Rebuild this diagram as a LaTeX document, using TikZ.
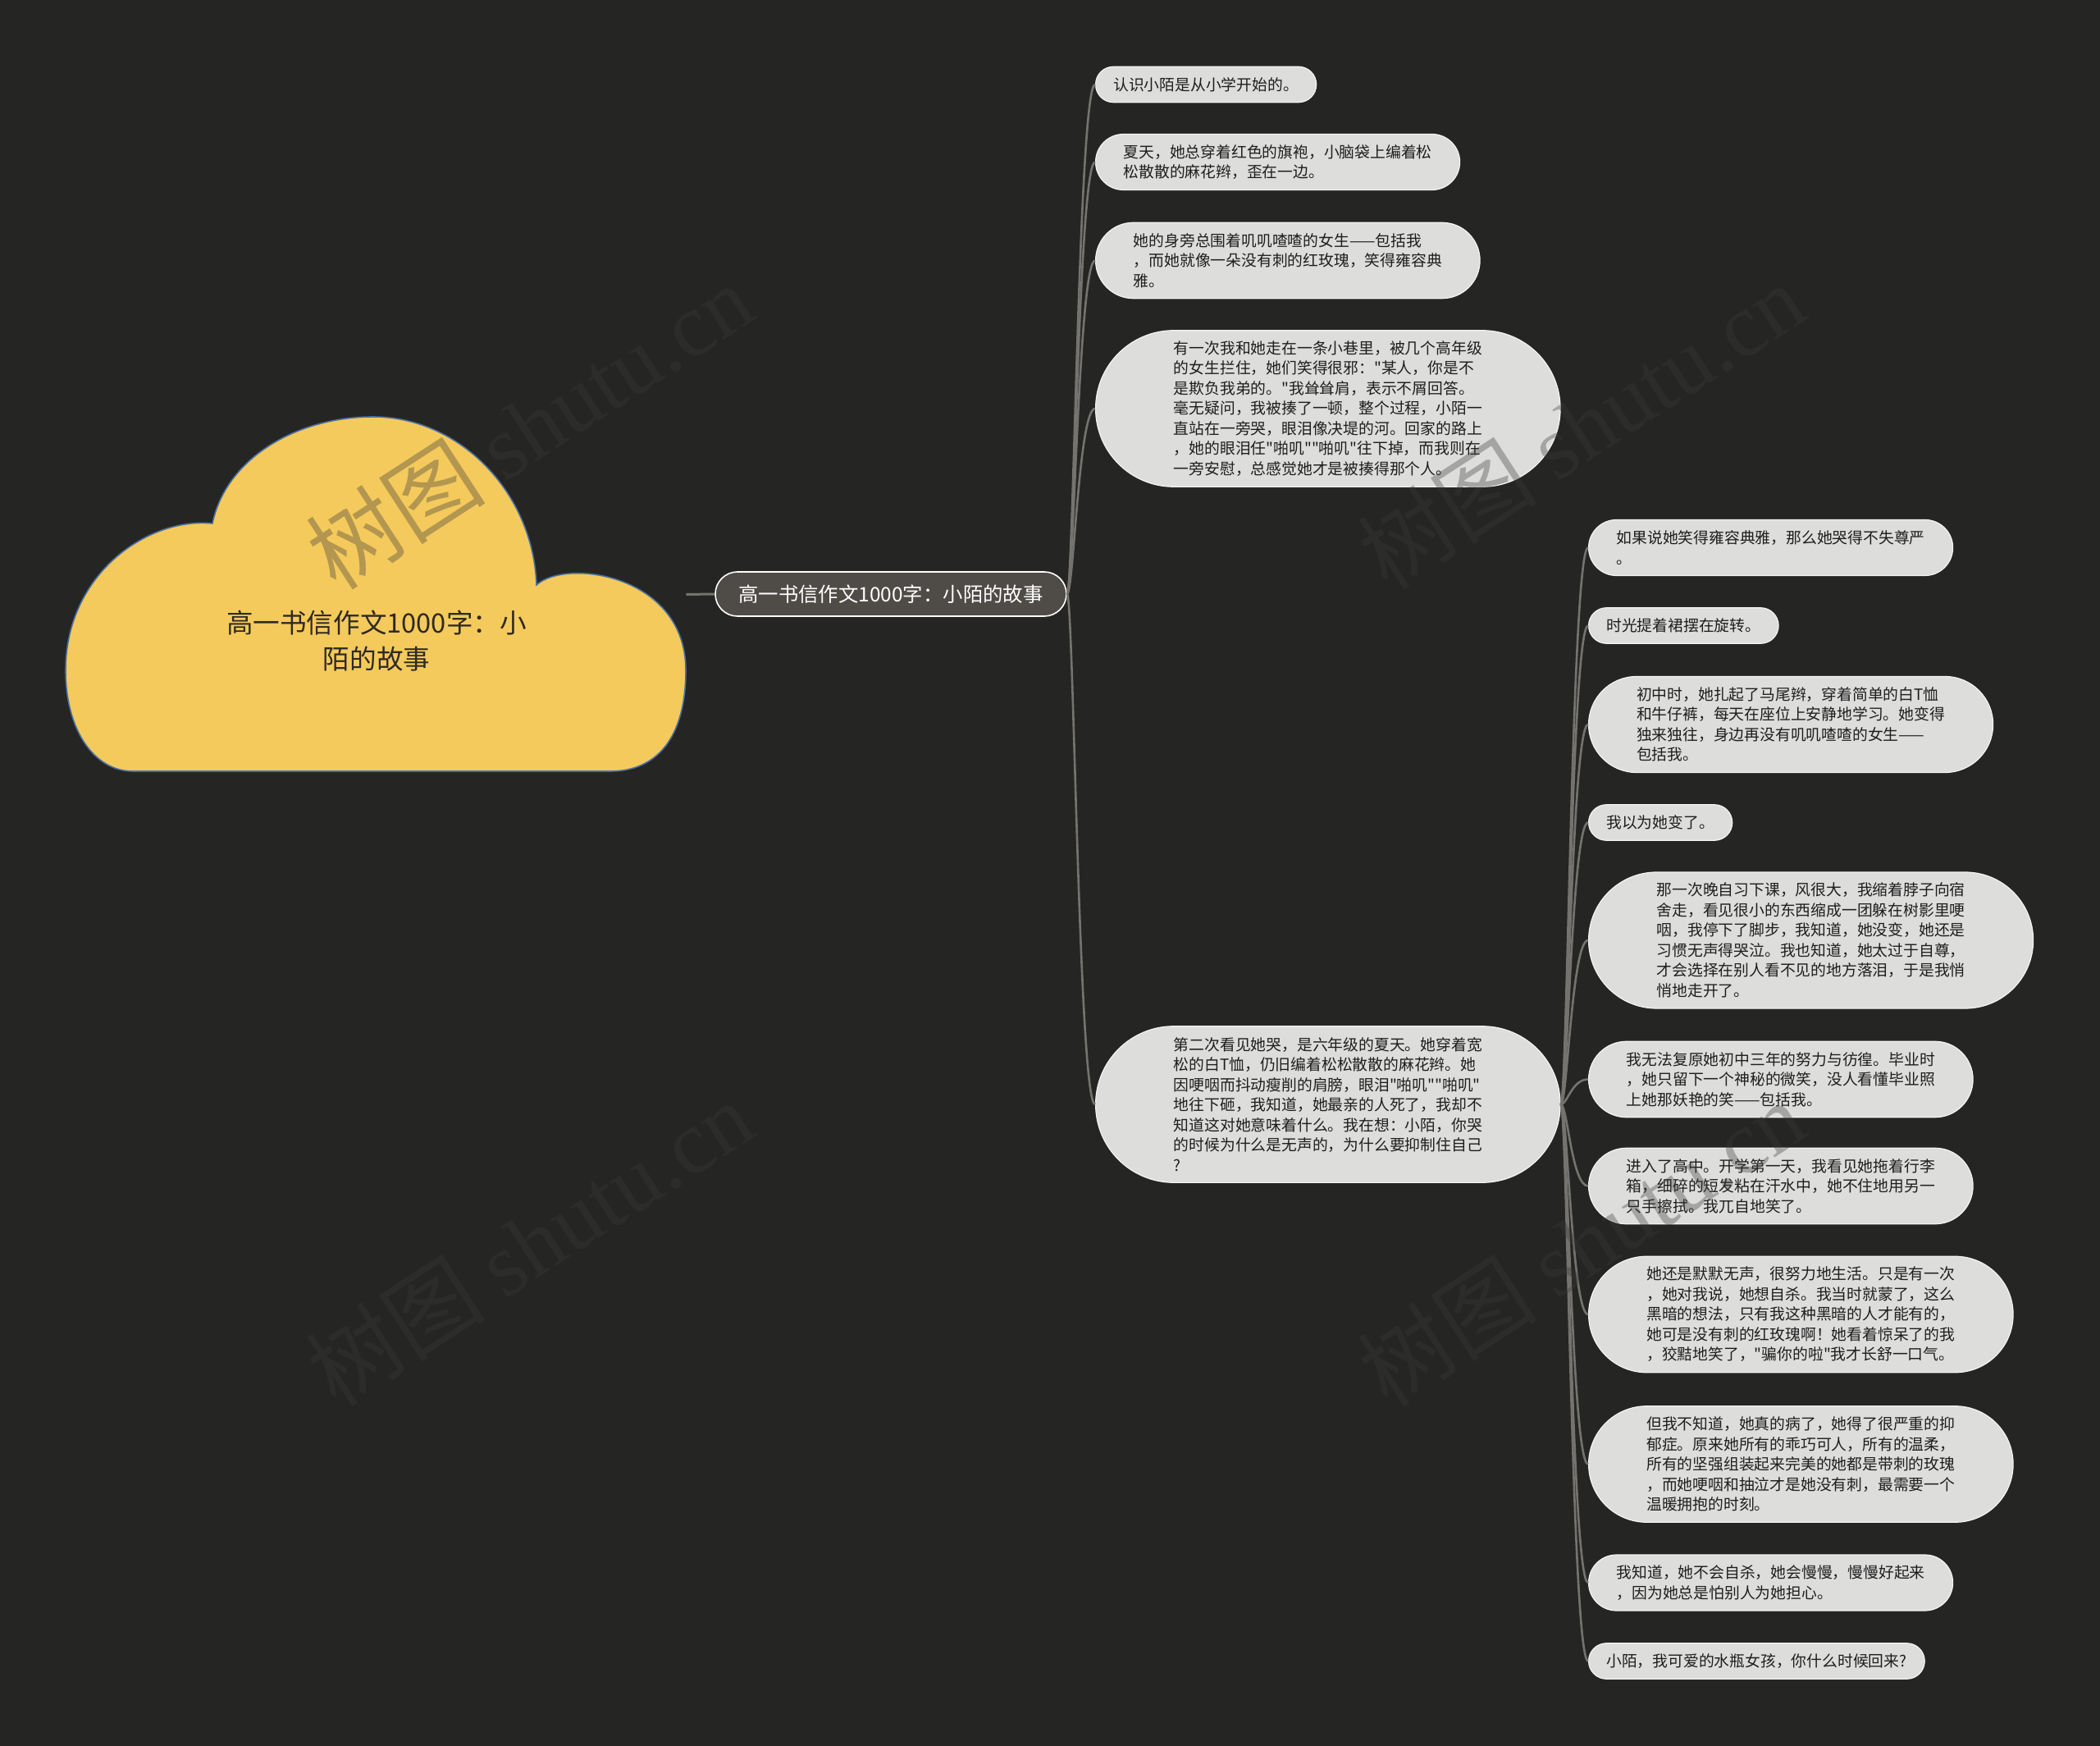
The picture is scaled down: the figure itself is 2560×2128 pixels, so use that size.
\documentclass[tikz,border=0pt]{standalone}
\usepackage{fontspec}
\setmainfont{Noto Sans CJK SC}[Ligatures=TeXOff]
\newfontfamily\wmserif{Liberation Serif}
\definecolor{bg}{HTML}{252523}
\definecolor{connc}{HTML}{75736F}
\definecolor{nodefill}{HTML}{DDDDDC}
\definecolor{nodeedge}{HTML}{F4F4F4}
\definecolor{nodetext}{HTML}{1E1E1E}
\definecolor{centralfill}{HTML}{4F4B47}
\definecolor{cloudfill}{HTML}{F5CA5C}
\definecolor{cloudedge}{HTML}{4A6FA5}
\definecolor{cloudtext}{HTML}{2E2A22}
\definecolor{wmc}{HTML}{3A3A3A}
\begin{document}
\begin{tikzpicture}[x=0.5pt,y=-0.5pt,
  conn/.style={draw=connc, line width=1.3pt},
  bubble/.style={fill=nodefill, draw=nodeedge, line width=0.6pt, text=nodetext,
    font=\fontsize{9.4}{12.25}\selectfont, align=left, anchor=west, inner ysep=0pt},
  b1/.style={bubble, minimum height=21.75pt, inner xsep=10.875pt, rounded corners=10.875pt},
  b2/.style={bubble, minimum height=34pt, inner xsep=17pt, rounded corners=17pt},
  b3/.style={bubble, minimum height=46.25pt, inner xsep=23.125pt, rounded corners=23.125pt},
  b4/.style={bubble, minimum height=58.5pt, inner xsep=29.25pt, rounded corners=29.25pt},
  b5/.style={bubble, minimum height=70.75pt, inner xsep=35.375pt, rounded corners=35.375pt},
  b6/.style={bubble, minimum height=83pt, inner xsep=41.5pt, rounded corners=41.5pt},
  b7/.style={bubble, minimum height=95.25pt, inner xsep=47.625pt, rounded corners=47.625pt},
  centralnode/.style={fill=centralfill, draw=white, line width=0.8pt, text=white,
    font=\fontsize{12.2}{14}\selectfont, minimum width=214pt, minimum height=27pt,
    rounded corners=13.5pt, inner sep=0pt},
  cloudshape/.style={fill=cloudfill, draw=cloudedge, line width=0.8pt},
  rootlabel/.style={text=cloudtext, font=\fontsize{16.3}{22}\selectfont, align=center, inner sep=0pt},
  wm/.style={text=wmc, text opacity=0.35, font=\fontsize{55}{60}\selectfont, rotate=33, inner sep=0pt}
]
\fill[bg] (0,0) rectangle (2560,2128);
\useasboundingbox (0,0) rectangle (2560,2128);

% cloud
\draw[cloudshape] (259,638) .. controls (275,560) and (360,508) .. (455,508)
  .. controls (560,508) and (650,600) .. (654,713)
  .. controls (690,680) and (836,700) .. (836,817)
  .. controls (836,900) and (800,940) .. (744,940)
  -- (162,940)
  .. controls (115,940) and (80,890) .. (80,817)
  .. controls (80,700) and (180,630) .. (259,638) -- cycle;
\node[minimum width=377pt, minimum height=215.5pt, inner sep=0pt] (root) at (459,724.5) {};
\node[rootlabel] (roottext) at (459,781) {高一书信作文1000字：小\\陌的故事};

% central
\node[centralnode] (c) at (1086,724) {高一书信作文1000字：小陌的故事};
\draw[draw=connc, line width=1.5pt] (root.east) -- (c.west);

% level 1
\node[b1] (n1) at (1335,103) {认识小陌是从小学开始的。};
\node[b2] (n2) at (1335,197.5) {夏天，她总穿着红色的旗袍，小脑袋上编着松\\松散散的麻花辫，歪在一边。};
\node[b3] (n3) at (1335,317.5) {她的身旁总围着叽叽喳喳的女生——包括我\\，而她就像一朵没有刺的红玫瑰，笑得雍容典\\雅。};
\node[b7] (n4) at (1335,498) {有一次我和她走在一条小巷里，被几个高年级\\的女生拦住，她们笑得很邪："某人，你是不\\是欺负我弟的。"我耸耸肩，表示不屑回答。\\毫无疑问，我被揍了一顿，整个过程，小陌一\\直站在一旁哭，眼泪像决堤的河。回家的路上\\，她的眼泪任"啪叽""啪叽"往下掉，而我则在\\一旁安慰，总感觉她才是被揍得那个人。};
\node[b7] (n5) at (1335,1346) {第二次看见她哭，是六年级的夏天。她穿着宽\\松的白T恤，仍旧编着松松散散的麻花辫。她\\因哽咽而抖动瘦削的肩膀，眼泪"啪叽""啪叽"\\地往下砸，我知道，她最亲的人死了，我却不\\知道这对她意味着什么。我在想：小陌，你哭\\的时候为什么是无声的，为什么要抑制住自己\\?};

% level 2
\node[b2] (ma) at (1936,667.5) {如果说她笑得雍容典雅，那么她哭得不失尊严\\。};
\node[b1] (mb) at (1936,762.5) {时光提着裙摆在旋转。};
\node[b4] (mc) at (1936,883) {初中时，她扎起了马尾辫，穿着简单的白T恤\\和牛仔裤，每天在座位上安静地学习。她变得\\独来独往，身边再没有叽叽喳喳的女生——\\包括我。};
\node[b1] (md) at (1936,1002.5) {我以为她变了。};
\node[b6] (me) at (1936,1146) {那一次晚自习下课，风很大，我缩着脖子向宿\\舍走，看见很小的东西缩成一团躲在树影里哽\\咽，我停下了脚步，我知道，她没变，她还是\\习惯无声得哭泣。我也知道，她太过于自尊，\\才会选择在别人看不见的地方落泪，于是我悄\\悄地走开了。};
\node[b3] (mf) at (1936,1315.5) {我无法复原她初中三年的努力与彷徨。毕业时\\，她只留下一个神秘的微笑，没人看懂毕业照\\上她那妖艳的笑——包括我。};
\node[b3] (mg) at (1936,1445.5) {进入了高中。开学第一天，我看见她拖着行李\\箱，细碎的短发粘在汗水中，她不住地用另一\\只手擦拭。我兀自地笑了。};
\node[b5] (mh) at (1936,1602) {她还是默默无声，很努力地生活。只是有一次\\，她对我说，她想自杀。我当时就蒙了，这么\\黑暗的想法，只有我这种黑暗的人才能有的，\\她可是没有刺的红玫瑰啊！她看着惊呆了的我\\，狡黠地笑了，"骗你的啦"我才长舒一口气。};
\node[b5] (mi) at (1936,1784.5) {但我不知道，她真的病了，她得了很严重的抑\\郁症。原来她所有的乖巧可人，所有的温柔，\\所有的坚强组装起来完美的她都是带刺的玫瑰\\，而她哽咽和抽泣才是她没有刺，最需要一个\\温暖拥抱的时刻。};
\node[b2] (mj) at (1936,1929) {我知道，她不会自杀，她会慢慢，慢慢好起来\\，因为她总是怕别人为她担心。};
\node[b1] (mk) at (1936,2024.5) {小陌，我可爱的水瓶女孩，你什么时候回来?};

% connectors
\foreach \t in {n1,n2,n3,n4,n5}
  \draw[conn] (c.east) .. controls +(8,0) and +(-20,0) .. (\t.west);
\foreach \t in {ma,mb,mc,md,me,mf,mg,mh,mi,mj,mk}
  \draw[conn] (n5.east) .. controls +(8,0) and +(-20,0) .. (\t.west);

% watermarks
\node[wm] (w1) at (645,519) {树图 {\wmserif shutu.cn}};
\node[wm] (w2) at (1927,519) {树图 {\wmserif shutu.cn}};
\node[wm] (w3) at (645,1515) {树图 {\wmserif shutu.cn}};
\node[wm] (w4) at (1927,1515) {树图 {\wmserif shutu.cn}};
\end{tikzpicture}
\end{document}
